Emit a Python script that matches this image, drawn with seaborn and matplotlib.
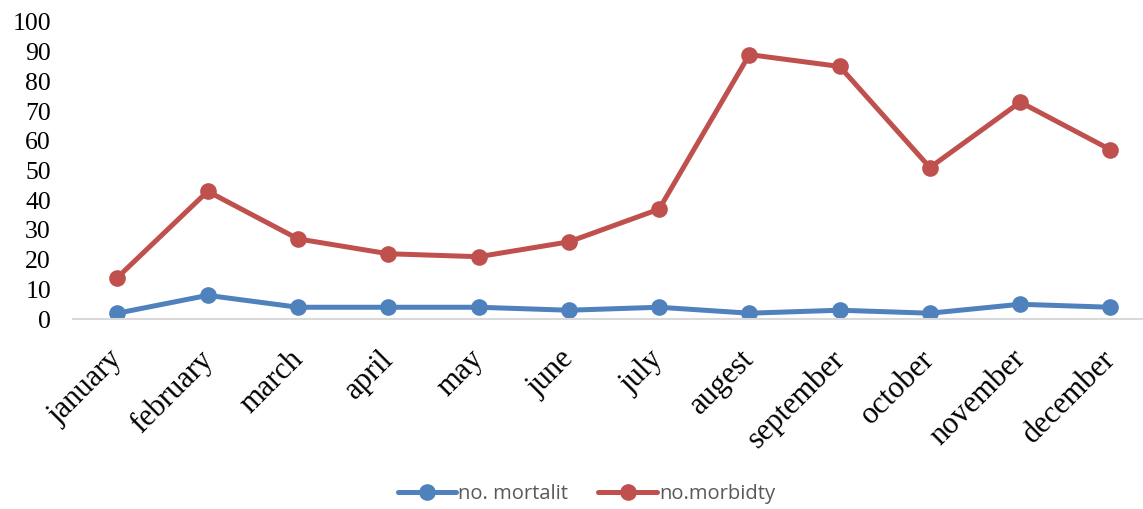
import pandas as pd
import matplotlib
matplotlib.use("Agg")
import matplotlib.pyplot as plt
import matplotlib.transforms as mtransforms
import seaborn as sns

# data
months = ["january", "february", "march", "april", "may", "june",
          "july", "augest", "september", "october", "november", "december"]
mortality = [2, 8, 4, 4, 4, 3, 4, 2, 3, 2, 5, 4]
morbidity = [14, 43, 27, 22, 21, 26, 37, 89, 85, 51, 73, 57]
series_names = ["no. mortalit", "no.morbidty"]
y_ticks = list(range(0, 101, 10))

df = pd.DataFrame({
    "month": months * 2,
    "value": mortality + morbidity,
    "series": [series_names[0]] * len(months) + [series_names[1]] * len(months),
})

sns.set_theme(style="white")
plt.rcParams["font.family"] = ["Liberation Serif", "DejaVu Serif"]

fig = plt.figure(figsize=(11.43, 5.09), dpi=100)
ax = fig.add_axes([0.064, 0.373, 0.936, 0.584])

sns.lineplot(data=df, x="month", y="value", hue="series",
             palette=["#4F81BD", "#C0504D"], marker="o", markersize=12,
             markeredgewidth=0, linewidth=3.6, sort=False, ax=ax)

ax.set_ylim(0, 100)
ax.set_xlim(-0.49, 11.36)
ax.set_yticks(y_ticks)
ax.set_yticklabels([str(t) for t in y_ticks], fontsize=18.5, color="black")
ax.set_xticks(range(len(months)))
ax.set_xticklabels(months, fontsize=22, rotation=45, ha="right",
                   rotation_mode="anchor", color="black")
ax.tick_params(axis="both", length=0)
ax.tick_params(axis="x", pad=7)
ax.tick_params(axis="y", pad=16)
# move month labels down-left along their slant, as in the reference
shift = mtransforms.ScaledTranslation(-7 / 72, -11.5 / 72, fig.dpi_scale_trans)
for lbl in ax.get_xticklabels():
    lbl.set_transform(lbl.get_transform() + shift)
ax.set_xlabel("")
ax.set_ylabel("")
for side in ["top", "right", "left"]:
    ax.spines[side].set_visible(False)
ax.spines["bottom"].set_color("#D9D9D9")
ax.spines["bottom"].set_linewidth(1.5)

leg = ax.legend(loc="center", ncol=2, frameon=False, handlelength=2.9,
                columnspacing=1.5, handletextpad=0.1,
                prop={"family": "Open Sans", "size": 14.5})
leg.set_bbox_to_anchor((0.513, 0.03), transform=fig.transFigure)
for t in leg.get_texts():
    t.set_color("#595959")

fig.savefig("out.png", dpi=100)
